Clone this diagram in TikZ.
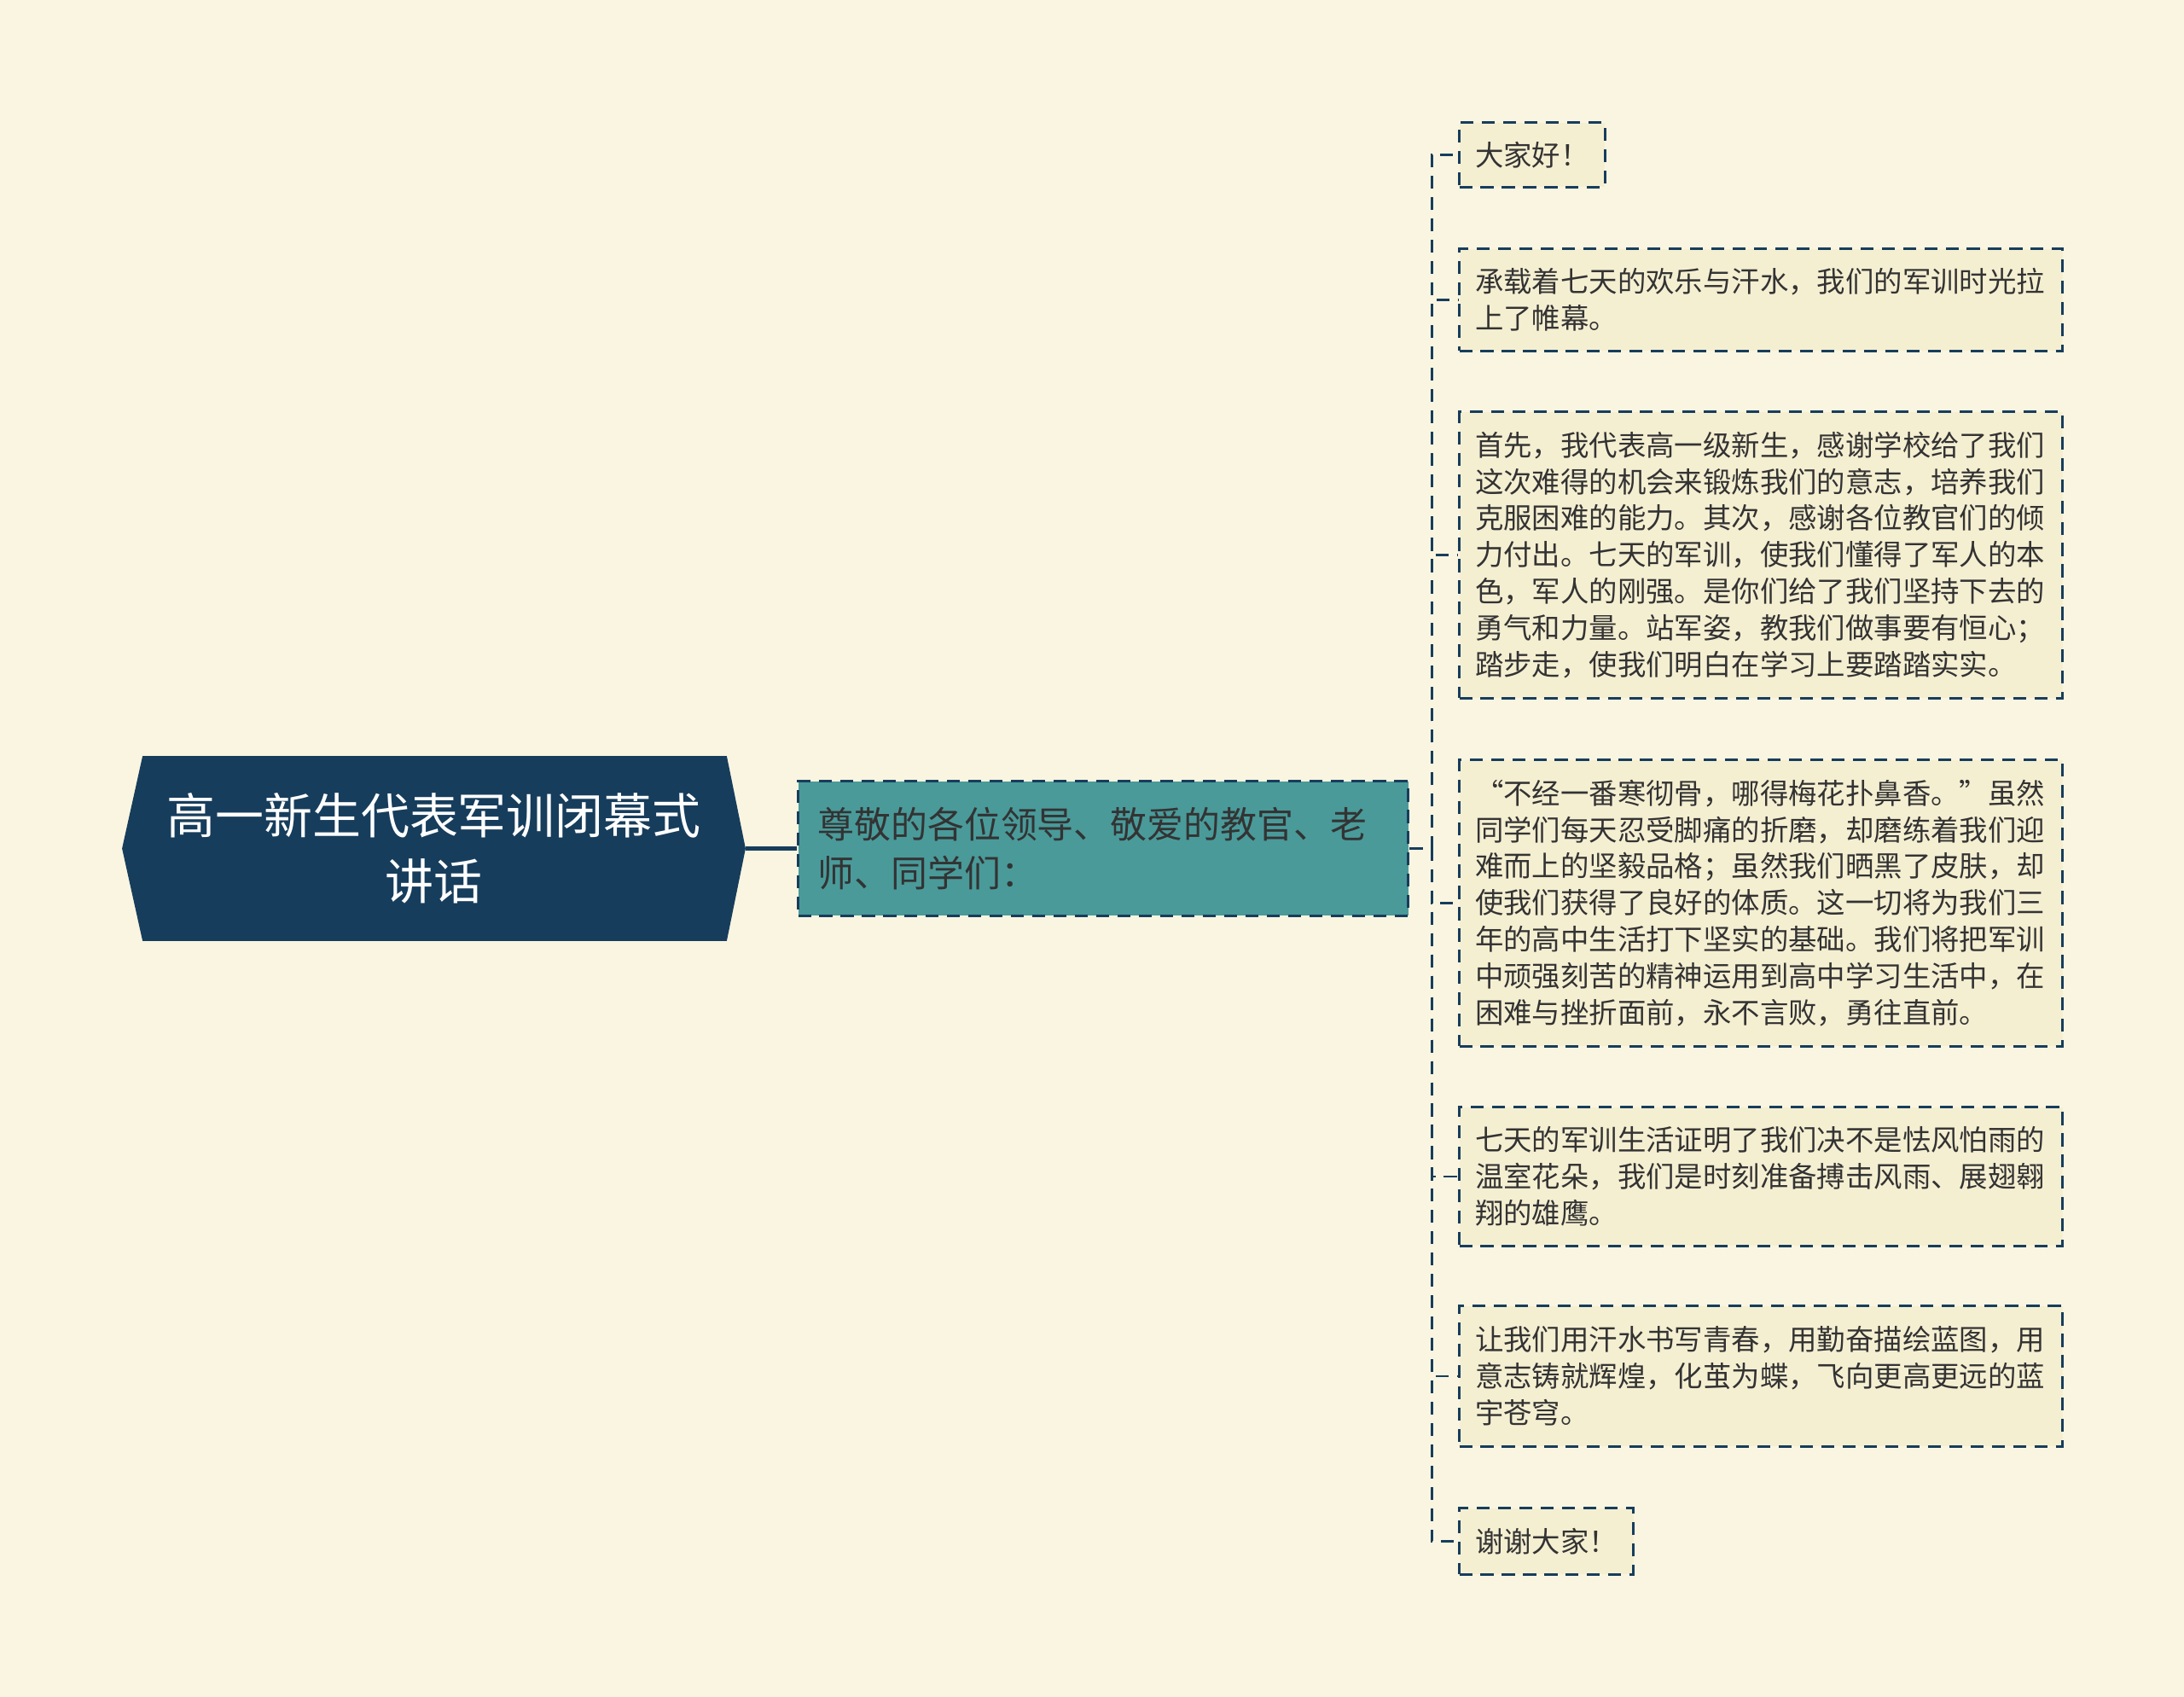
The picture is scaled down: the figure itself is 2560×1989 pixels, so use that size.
\documentclass[tikz,border=0pt]{standalone}
\usepackage{fontspec}
\setmainfont{Noto Sans CJK SC}
\usepackage{tikz}
\usetikzlibrary{backgrounds, calc}

\definecolor{bgcream}{HTML}{FAF5E0}
\definecolor{navy}{HTML}{173D5C}
\definecolor{teal}{HTML}{4A9A9A}
\definecolor{leaffill}{HTML}{F5EFD2}
\definecolor{inkgray}{HTML}{333333}

\tikzset{
	branch/.style={draw=navy, line width=0.85pt, dash pattern=on 4.3pt off 2.8pt},
	leaf/.style={branch, fill=leaffill, text=inkgray, font=\fontsize{9.5}{12.2}\selectfont,
		inner xsep=0.185cm, inner ysep=0pt, align=left, anchor=west},
	longleaf/.style={leaf, text width=6.7cm},
}

\begin{document}
\begin{tikzpicture}[x=0.01cm, y=-0.01cm]
			\begin{pgfonlayer}{background}
				\fill[bgcream] (0,0) rectangle (2560,1989);
			\end{pgfonlayer}
			% root and first branch
			\node[text=white, align=center, font=\fontsize{16.2}{21.9}\selectfont, minimum width=7.29cm, minimum height=2.15cm, inner sep=0pt] (root) at (508.5,994.5) {高一新生代表军训闭幕式\\讲话};
			\begin{pgfonlayer}{background}
				\fill[navy] (root.west) -- ([xshift=0.24cm]root.north west) -- ([xshift=-0.22cm]root.north east) -- (root.east) -- ([xshift=-0.22cm]root.south east) -- ([xshift=0.24cm]root.south west) -- cycle;
			\end{pgfonlayer}
			\node[branch, fill=teal, text=inkgray, font=\fontsize{12.2}{16.2}\selectfont, align=left, text width=6.69cm, inner xsep=0.23cm, inner ysep=0pt, minimum height=1.57cm, anchor=west] (mid) at (934,994.5) {尊敬的各位领导、敬爱的教官、老\\师、同学们：};
			\draw[navy, line width=1.2pt] (root.east) -- (mid.west);
			% leaves
			\node[leaf, minimum height=0.75cm] (l1) at (1709,181.5) {大家好！};
			\node[longleaf, minimum height=1.19cm] (l2) at (1709,351.5) {承载着七天的欢乐与汗水，我们的军训时光拉\\上了帷幕。};
			\node[longleaf, minimum height=3.35cm] (l3) at (1709,650.5) {首先，我代表高一级新生，感谢学校给了我们\\这次难得的机会来锻炼我们的意志，培养我们\\克服困难的能力。其次，感谢各位教官们的倾\\力付出。七天的军训，使我们懂得了军人的本\\色，军人的刚强。是你们给了我们坚持下去的\\勇气和力量。站军姿，教我们做事要有恒心；\\踏步走，使我们明白在学习上要踏踏实实。};
			\node[longleaf, minimum height=3.35cm] (l4) at (1709,1058.5) {“不经一番寒彻骨，哪得梅花扑鼻香。”虽然\\同学们每天忍受脚痛的折磨，却磨练着我们迎\\难而上的坚毅品格；虽然我们晒黑了皮肤，却\\使我们获得了良好的体质。这一切将为我们三\\年的高中生活打下坚实的基础。我们将把军训\\中顽强刻苦的精神运用到高中学习生活中，在\\困难与挫折面前，永不言败，勇往直前。};
			\node[longleaf, minimum height=1.62cm] (l5) at (1709,1379) {七天的军训生活证明了我们决不是怯风怕雨的\\温室花朵，我们是时刻准备搏击风雨、展翅翱\\翔的雄鹰。};
			\node[longleaf, minimum height=1.64cm] (l6) at (1709,1613) {让我们用汗水书写青春，用勤奋描绘蓝图，用\\意志铸就辉煌，化茧为蝶，飞向更高更远的蓝\\宇苍穹。};
			\node[leaf, minimum height=0.77cm] (l7) at (1709,1806.5) {谢谢大家！};
			% connectors to the leaves
			\coordinate (hub) at (1678,994.5);
			\foreach \n in {1,...,7}
				\draw[branch] (mid.east) -- (hub) |- (l\n.west);
\end{tikzpicture}
\end{document}
